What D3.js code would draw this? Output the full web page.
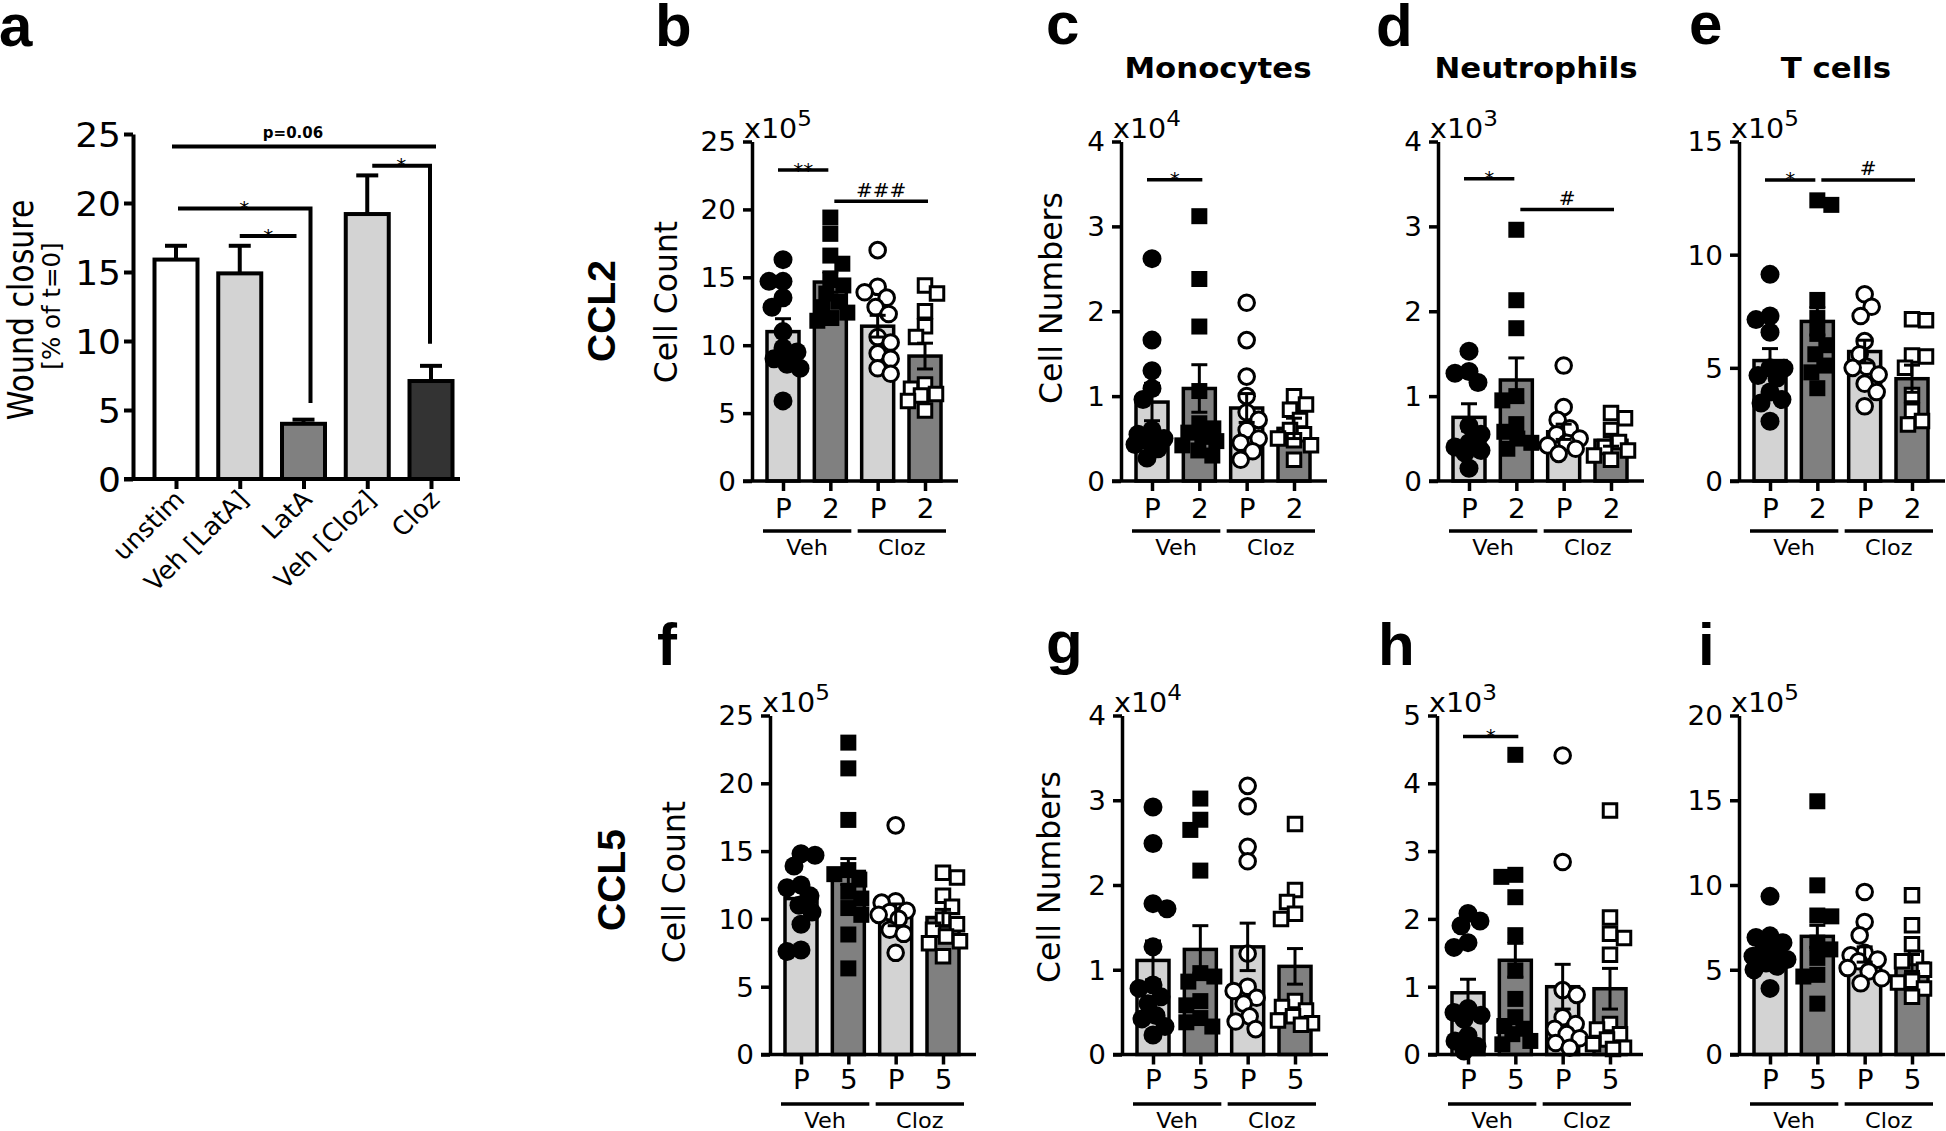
<!DOCTYPE html>
<html><head><meta charset="utf-8">
<script src="https://cdn.jsdelivr.net/npm/d3@7"></script>
<style>html,body{margin:0;padding:0;background:#fff;} svg{display:block;}</style>
</head><body>
<script>
// ---------------- DATA ----------------
// Panel a: wound closure
const aCategories = ["unstim", "Veh [LatA]", "LatA", "Veh [Cloz]", "Cloz"];
const aMeans = [15.9, 14.9, 4.0, 19.2, 7.1];
const aSem = [1.0, 2.0, 0.3, 2.8, 1.1];
const aTicks = [0, 5, 10, 15, 20, 25];
const aSig = [
  {from: 0, to: 4, v: 24.1, drop: null, label: "p=0.06"},
  {from: 0, to: 2, v: 19.6, drop: 5.5, label: "*"},
  {from: 1, to: 2, v: 17.6, drop: null, label: "*"},
  {from: 3, to: 4, v: 22.7, drop: 9.8, label: "*"}
];

// Scatter panels: categories & tick labels
const ccl2Categories = ["Veh-P", "Veh-2", "Cloz-P", "Cloz-2"];
const ccl5Categories = ["Veh-P", "Veh-5", "Cloz-P", "Cloz-5"];
const ccl2TickLabels = ["P", "2", "P", "2"];
const ccl5TickLabels = ["P", "5", "P", "5"];
const treatmentLabels = ["Veh", "Cloz"];

// b: CCL2 cell count (x10^5)
const bVehP  = [16.3, 14.7, 14.7, 13.5, 12.8, 11.0, 9.8, 9.5, 9.0, 8.6, 8.3, 5.9];
const bVeh2  = [19.4, 18.2, 16.6, 16.0, 14.8, 14.4, 13.8, 13.2, 12.8, 12.4, 12.0, 11.8];
const bClozP = [17.0, 14.3, 13.9, 13.5, 12.8, 12.3, 10.6, 10.2, 9.4, 9.0, 8.3, 7.9];
const bCloz2 = [14.4, 13.8, 12.5, 11.4, 10.6, 7.1, 6.8, 6.4, 6.3, 5.9, 5.2];
const bMeans = [11.0, 14.65, 11.4, 9.2];
const bSem = [0.95, 0.75, 0.8, 0.95];
const bTicks = [0, 5, 10, 15, 20, 25];
const bSig = [{from: 0, to: 1, v: 22.9, label: "**"}, {from: 1, to: 3, v: 20.6, label: "###"}];

// c: Monocytes (x10^4)
const cVehP  = [2.62, 1.66, 1.30, 1.09, 0.96, 0.60, 0.55, 0.50, 0.47, 0.43, 0.38, 0.27];
const cVeh2  = [3.12, 2.38, 1.82, 1.06, 0.68, 0.62, 0.57, 0.52, 0.47, 0.42, 0.36, 0.30];
const cClozP = [2.10, 1.66, 1.23, 1.00, 0.81, 0.72, 0.60, 0.50, 0.45, 0.35, 0.25];
const cCloz2 = [1.00, 0.90, 0.84, 0.72, 0.60, 0.55, 0.50, 0.48, 0.42, 0.25];
const cMeans = [0.93, 1.09, 0.86, 0.62];
const cSem = [0.22, 0.28, 0.17, 0.12];
const cTicks = [0, 1, 2, 3, 4];
const cSig = [{from: 0, to: 1, v: 3.55, label: "*"}];

// d: Neutrophils (x10^3)
const dVehP  = [1.53, 1.29, 1.27, 1.16, 0.65, 0.55, 0.45, 0.40, 0.36, 0.33, 0.15];
const dVeh2  = [2.96, 2.13, 1.80, 1.00, 0.95, 0.67, 0.58, 0.50, 0.45, 0.38];
const dClozP = [1.36, 0.87, 0.72, 0.62, 0.55, 0.50, 0.45, 0.42, 0.38, 0.32];
const dCloz2 = [0.80, 0.74, 0.60, 0.46, 0.40, 0.36, 0.30, 0.25];
const dMeans = [0.75, 1.19, 0.58, 0.48];
const dSem = [0.16, 0.26, 0.09, 0.07];
const dTicks = [0, 1, 2, 3, 4];
const dSig = [{from: 0, to: 1, v: 3.56, label: "*"}, {from: 1, to: 3, v: 3.2, label: "#"}];

// e: T cells (x10^5)
const eVehP  = [9.13, 7.29, 7.13, 6.57, 5.0, 4.98, 4.66, 4.55, 3.93, 3.6, 3.45, 2.64];
const eVeh2  = [12.4, 12.2, 8.0, 7.2, 6.5, 6.0, 5.6, 5.1, 4.8, 4.1];
const eClozP = [8.25, 7.7, 7.29, 6.18, 5.6, 5.05, 5.0, 4.7, 4.3, 3.93, 3.3];
const eCloz2 = [7.15, 7.1, 5.55, 5.5, 5.0, 3.8, 3.1, 2.65, 2.5];
const eMeans = [5.32, 7.05, 5.72, 4.52];
const eSem = [0.53, 0.6, 0.5, 0.6];
const eTicks = [0, 5, 10, 15];
const eSig = [{from: 0, to: 1, v: 13.3, label: "*"}, {from: 1, to: 3, v: 13.3, label: "#"}];

// f: CCL5 cell count (x10^5)
const fVehP  = [14.8, 14.7, 13.9, 12.5, 12.3, 11.7, 11.0, 10.5, 9.6, 7.7, 7.6];
const fVeh5  = [23.0, 21.1, 17.3, 13.6, 13.3, 12.9, 12.0, 11.5, 10.8, 10.3, 8.85, 6.35];
const fClozP = [16.9, 11.3, 11.2, 10.6, 10.5, 10.3, 10.0, 9.2, 8.9, 7.5];
const fCloz5 = [13.4, 13.05, 11.7, 10.9, 9.95, 9.6, 9.2, 8.7, 8.35, 8.2, 7.25];
const fMeans = [11.5, 13.5, 10.3, 10.1];
const fSem = [0.65, 0.95, 0.8, 0.6];
const fTicks = [0, 5, 10, 15, 20, 25];

// g: Monocytes CCL5 (x10^4)
const gVehP  = [2.92, 2.49, 1.78, 1.72, 1.27, 0.82, 0.78, 0.68, 0.60, 0.46, 0.42, 0.33, 0.23];
const gVeh5  = [3.02, 2.77, 2.65, 2.17, 0.96, 0.92, 0.86, 0.63, 0.58, 0.43, 0.38, 0.33];
const gClozP = [3.17, 2.93, 2.45, 2.28, 1.19, 0.80, 0.75, 0.67, 0.60, 0.45, 0.39, 0.30];
const gCloz5 = [2.72, 1.94, 1.80, 1.66, 1.60, 0.63, 0.56, 0.52, 0.45, 0.40, 0.37, 0.35];
const gMeans = [1.11, 1.24, 1.27, 1.04];
const gSem = [0.23, 0.28, 0.28, 0.21];
const gTicks = [0, 1, 2, 3, 4];

// h: Neutrophils CCL5 (x10^3)
const hVehP  = [2.08, 1.97, 1.90, 1.65, 1.58, 0.68, 0.62, 0.58, 0.52, 0.28, 0.20, 0.12, 0.05];
const hVeh5  = [4.42, 2.65, 2.62, 2.32, 1.76, 1.24, 0.82, 0.55, 0.42, 0.38, 0.30, 0.20, 0.15];
const hClozP = [4.41, 2.84, 0.95, 0.88, 0.55, 0.45, 0.38, 0.30, 0.24, 0.17, 0.10];
const hCloz5 = [3.60, 2.02, 1.78, 1.72, 1.47, 0.45, 0.37, 0.30, 0.22, 0.15, 0.10, 0.08];
const hMeans = [0.91, 1.39, 1.0, 0.97];
const hSem = [0.2, 0.25, 0.33, 0.3];
const hTicks = [0, 1, 2, 3, 4, 5];
const hSig = [{from: 0, to: 1, v: 4.69, label: "*"}];

// i: T cells CCL5 (x10^5)
const iVehP  = [9.33, 7.0, 6.9, 6.6, 6.3, 6.0, 5.8, 5.6, 5.4, 5.2, 5.0, 3.9];
const iVeh5  = [14.94, 9.98, 8.2, 8.15, 6.6, 6.2, 5.7, 4.7, 4.6, 3.0];
const iClozP = [9.59, 7.82, 7.03, 6.0, 5.85, 5.6, 5.5, 5.1, 4.9, 4.5, 4.2];
const iCloz5 = [9.39, 7.62, 6.5, 5.7, 5.5, 5.0, 4.35, 4.25, 3.9, 3.4];
const iMeans = [6.0, 6.97, 5.9, 5.4];
const iSem = [0.45, 0.65, 0.45, 0.5];
const iTicks = [0, 5, 10, 15, 20];

// ---------------- RENDER ----------------
const W = 1946, H = 1131;
const FONT = "'DejaVu Sans', Verdana, sans-serif";
const FONT_L = "'Liberation Sans', Arial, sans-serif";
const SX = 1.07;
const svg = d3.select("body").append("svg").attr("width", W).attr("height", H).attr("viewBox", `0 0 ${W} ${H}`);
svg.append("rect").attr("width", W).attr("height", H).attr("fill", "#fff");

function txt(p, x, y, s, o = {}) {
  const sx = o.sx ?? SX;
  return p.append("text")
    .attr("transform", `translate(${x},${y}) scale(${sx},1)${o.rot ? ` rotate(${o.rot})` : ""}`)
    .attr("font-family", o.family || FONT)
    .attr("font-size", o.size || 24)
    .attr("font-weight", o.weight || "normal")
    .attr("text-anchor", o.anchor || "start")
    .attr("fill", "#000")
    .text(s);
}
function line(p, x1, y1, x2, y2, w = 3) {
  return p.append("line").attr("x1", x1).attr("y1", y1).attr("x2", x2).attr("y2", y2)
    .attr("stroke", "#000").attr("stroke-width", w);
}
function swarm(vals, y, minDist, maxOff) {
  const order = vals.map((v, i) => i).sort((a, b) => vals[b] - vals[a]);
  const placed = [], offs = new Array(vals.length);
  order.forEach((i, n) => {
    const py = y(vals[i]);
    let best = null, cand = 0, candScore = -1;
    for (let k = 0; k <= maxOff && best === null; k++) {
      const opts = k === 0 ? [0] : (n % 2 ? [k, -k] : [-k, k]);
      for (const s of opts) {
        let md = Infinity;
        placed.forEach(p => { md = Math.min(md, Math.hypot(p.x - s, p.y - py)); });
        if (md >= minDist) { best = s; break; }
        if (md > candScore) { candScore = md; cand = s; }
      }
    }
    if (best === null) best = cand;
    offs[i] = best; placed.push({x: best, y: py});
  });
  return offs;
}
function yAxis(g, y, axisX, ticks, fs, pad, tickLen, sw, sx) {
  const ax = g.append("g").attr("transform", `translate(${axisX},0)`)
    .call(d3.axisLeft(y).tickValues(ticks).tickSize(tickLen).tickSizeOuter(0).tickPadding(0).tickFormat(d3.format("d")));
  ax.attr("font-size", null).attr("font-family", null);
  ax.select(".domain").attr("stroke", "#000").attr("stroke-width", sw);
  ax.selectAll(".tick line").attr("stroke", "#000").attr("stroke-width", sw);
  ax.selectAll(".tick text").attr("x", -pad / sx).attr("dy", "0.36em")
    .attr("transform", `scale(${sx},1)`).attr("font-size", fs).attr("font-family", FONT).attr("fill", "#000");
}

const MARK = [
  {shape: d3.symbolCircle, size: Math.PI * 9.5 * 9.5, fill: "#000", stroke: "none", sw: 0},
  {shape: d3.symbolSquare, size: 16 * 16, fill: "#000", stroke: "none", sw: 0},
  {shape: d3.symbolCircle, size: Math.PI * 7.8 * 7.8, fill: "#fff", stroke: "#000", sw: 3},
  {shape: d3.symbolSquare, size: 13.5 * 13.5, fill: "#fff", stroke: "#000", sw: 3}
];
const BAR_FILL = ["#d3d3d3", "#808080"];
const TOP = {y0: 481, yTop: 141.5, labBase: 37, groupLine: 50};
const BOT = {y0: 1054.5, yTop: 715.5, labBase: 35, groupLine: 49.5};
const SW = 3.5;

function scatterPanel(P) {
  const R = P.row, y0 = R.y0;
  const y = d3.scaleLinear().domain([0, P.max]).range([y0, R.yTop]);
  const x = d3.scalePoint().domain(P.cats).range([P.axisX + 31, P.axisX + 173]);
  const g = svg.append("g");
  // bars
  g.selectAll("rect.bar").data(P.cats).join("rect").attr("class", "bar")
    .attr("x", d => x(d) - 16).attr("width", 32)
    .attr("y", (d, i) => y(P.means[i])).attr("height", (d, i) => y0 - y(P.means[i]))
    .attr("fill", (d, i) => BAR_FILL[i % 2]).attr("stroke", "#000").attr("stroke-width", SW);
  // points
  P.points.forEach((vals, ci) => {
    const offs = swarm(vals, y, 14, 17);
    const cx = x(P.cats[ci]), m = MARK[ci];
    g.append("g").selectAll("path").data(vals).join("path")
      .attr("transform", (v, j) => `translate(${cx + offs[j]},${y(v)})`)
      .attr("d", d3.symbol().type(m.shape).size(m.size))
      .attr("fill", m.fill).attr("stroke", m.stroke).attr("stroke-width", m.sw);
  });
  // error bars (mean ± SEM)
  P.cats.forEach((c, i) => {
    const cx = x(c), yt = y(P.means[i] + P.sem[i]), yb = y(P.means[i] - P.sem[i]);
    line(g, cx, yt, cx, yb, 3);
    line(g, cx - 8, yt, cx + 8, yt, 3);
    line(g, cx - 8, yb, cx + 8, yb, 3);
  });
  // axes
  yAxis(g, y, P.axisX, P.ticks, 26, 16, 9, SW, SX);
  line(g, P.axisX - 9, y0, P.axisX + 206, y0, SW);
  const xa = g.append("g").attr("transform", `translate(0,${y0})`)
    .call(d3.axisBottom(x).tickSize(10).tickSizeOuter(0).tickFormat((d, i) => P.tickLabels[i]));
  xa.attr("font-size", null).attr("font-family", null);
  xa.select(".domain").remove();
  xa.selectAll(".tick line").attr("stroke", "#000").attr("stroke-width", SW);
  xa.selectAll(".tick text").attr("y", R.labBase).attr("dy", 0).attr("transform", `scale(${SX},1)`)
    .attr("font-size", 26).attr("font-family", FONT).attr("fill", "#000");
  // treatment group lines
  treatmentLabels.forEach((t, k) => {
    const x1 = x(P.cats[2 * k]) - 20, x2 = x(P.cats[2 * k + 1]) + 21, gy = y0 + R.groupLine;
    line(g, x1, gy, x2, gy, 3.5);
    txt(g, (x1 + x2) / 2, gy + 24, t, {size: 21, anchor: "middle"});
  });
  // exponent label
  const ex = txt(g, P.axisX - 8, R.yTop - 4, "x10", {size: 26, sx: 1.1});
  ex.append("tspan").attr("font-size", 21).attr("dy", -12).text(P.exp);
  // significance
  const sig = P.sig || [];
  sig.forEach(s => {
    const x1 = x(P.cats[s.from]) + (sig.some(o => o !== s && o.to === s.from) ? 4 : -5);
    const x2 = x(P.cats[s.to]) + (sig.some(o => o !== s && o.from === s.to) ? -2 : 3);
    const sy = y(s.v);
    line(g, x1, sy, x2, sy, 3.5);
    const isHash = s.label.startsWith("#");
    txt(g, (x1 + x2) / 2, isHash ? sy - 4.5 : sy + 6.5, s.label, {size: 20, anchor: "middle", sx: 1});
  });
  // y title
  if (P.yTitle) txt(g, P.yTitleX, P.yTitleY, P.yTitle, {size: 31.5, anchor: "middle", rot: -90, sx: 1.03});
  if (P.title) txt(g, P.titleX, 78, P.title, {size: 28, weight: "bold", anchor: "middle", sx: 1.1});
  txt(g, P.letterX, P.letterY, P.letter, {size: 60, weight: "bold", family: FONT_L, sx: 1});
}

// ---- Panel a ----
(function () {
  const y0 = 479, yTop = 134, axisX = 133;
  const y = d3.scaleLinear().domain([0, 25]).range([y0, yTop]);
  const x = d3.scalePoint().domain(aCategories).range([176, 431]);
  const fills = ["#ffffff", "#d3d3d3", "#808080", "#d3d3d3", "#333333"];
  const g = svg.append("g");
  g.selectAll("rect").data(aCategories).join("rect")
    .attr("x", d => x(d) - 21.5).attr("width", 43)
    .attr("y", (d, i) => y(aMeans[i])).attr("height", (d, i) => y0 - y(aMeans[i]))
    .attr("fill", (d, i) => fills[i]).attr("stroke", "#000").attr("stroke-width", 4);
  aCategories.forEach((c, i) => {
    const cx = x(c), yt = y(aMeans[i] + aSem[i]);
    line(g, cx, y(aMeans[i]), cx, yt, 4);
    line(g, cx - 11, yt, cx + 11, yt, 4);
  });
  yAxis(g, y, axisX, aTicks, 34, 12, 9, 4, 1.06);
  line(g, 124, y0, 460, y0, 4);
  const xa = g.append("g").attr("transform", `translate(0,${y0})`)
    .call(d3.axisBottom(x).tickSize(10).tickSizeOuter(0).tickFormat(() => ""));
  xa.select(".domain").remove();
  xa.selectAll(".tick line").attr("stroke", "#000").attr("stroke-width", 4);
  aCategories.forEach(c => txt(g, x(c) + 10, y0 + 22, c, {size: 25, anchor: "end", rot: -45, sx: 1.03}));
  // significance brackets
  const nudge = [[-4, 5, -11], [2, 7, 0], [0, -7, 0], [5, -1, 0]];
  aSig.forEach((s, k) => {
    const x1 = x(aCategories[s.from]) + nudge[k][0], x2 = x(aCategories[s.to]) + nudge[k][1], sy = y(s.v);
    if (s.drop !== null) {
      g.append("path").attr("d", `M${x1},${sy}H${x2}V${y(s.drop)}`).attr("fill", "none")
        .attr("stroke", "#000").attr("stroke-width", 4);
    } else line(g, x1, sy, x2, sy, 4);
    const cx = (x1 + x2) / 2 + nudge[k][2];
    if (s.label === "*") txt(g, cx, sy + 6.5, s.label, {size: 20, anchor: "middle", sx: 1});
    else txt(g, cx, sy - 8, s.label, {size: 15, weight: "bold", anchor: "middle", sx: 1});
  });
  txt(g, 33, 310, "Wound closure", {size: 30, anchor: "middle", rot: -90, sx: 1.2});
  txt(g, 60, 306, "[% of t=0]", {size: 24.5, anchor: "middle", rot: -90, sx: 1});
  txt(g, -1, 46, "a", {size: 60, weight: "bold", family: FONT_L, sx: 1});
})();

// ---- Scatter panels ----
scatterPanel({row: TOP, axisX: 752, max: 25, ticks: bTicks, exp: "5", cats: ccl2Categories, tickLabels: ccl2TickLabels,
  means: bMeans, sem: bSem, points: [bVehP, bVeh2, bClozP, bCloz2], sig: bSig,
  yTitle: "Cell Count", yTitleX: 677, yTitleY: 302, letter: "b", letterX: 655, letterY: 46});
scatterPanel({row: TOP, axisX: 1121, max: 4, ticks: cTicks, exp: "4", cats: ccl2Categories, tickLabels: ccl2TickLabels,
  means: cMeans, sem: cSem, points: [cVehP, cVeh2, cClozP, cCloz2], sig: cSig,
  yTitle: "Cell Numbers", yTitleX: 1062, yTitleY: 298, title: "Monocytes", titleX: 1218, letter: "c", letterX: 1046, letterY: 44});
scatterPanel({row: TOP, axisX: 1438, max: 4, ticks: dTicks, exp: "3", cats: ccl2Categories, tickLabels: ccl2TickLabels,
  means: dMeans, sem: dSem, points: [dVehP, dVeh2, dClozP, dCloz2], sig: dSig,
  title: "Neutrophils", titleX: 1536, letter: "d", letterX: 1376, letterY: 46});
scatterPanel({row: TOP, axisX: 1739, max: 15, ticks: eTicks, exp: "5", cats: ccl2Categories, tickLabels: ccl2TickLabels,
  means: eMeans, sem: eSem, points: [eVehP, eVeh2, eClozP, eCloz2], sig: eSig,
  title: "T cells", titleX: 1836, letter: "e", letterX: 1689, letterY: 44});
scatterPanel({row: BOT, axisX: 770, max: 25, ticks: fTicks, exp: "5", cats: ccl5Categories, tickLabels: ccl5TickLabels,
  means: fMeans, sem: fSem, points: [fVehP, fVeh5, fClozP, fCloz5],
  yTitle: "Cell Count", yTitleX: 685, yTitleY: 882, letter: "f", letterX: 657, letterY: 665});
scatterPanel({row: BOT, axisX: 1122, max: 4, ticks: gTicks, exp: "4", cats: ccl5Categories, tickLabels: ccl5TickLabels,
  means: gMeans, sem: gSem, points: [gVehP, gVeh5, gClozP, gCloz5],
  yTitle: "Cell Numbers", yTitleX: 1060, yTitleY: 877, letter: "g", letterX: 1046, letterY: 663});
scatterPanel({row: BOT, axisX: 1437, max: 5, ticks: hTicks, exp: "3", cats: ccl5Categories, tickLabels: ccl5TickLabels,
  means: hMeans, sem: hSem, points: [hVehP, hVeh5, hClozP, hCloz5], sig: hSig,
  letter: "h", letterX: 1378, letterY: 665});
scatterPanel({row: BOT, axisX: 1739, max: 20, ticks: iTicks, exp: "5", cats: ccl5Categories, tickLabels: ccl5TickLabels,
  means: iMeans, sem: iSem, points: [iVehP, iVeh5, iClozP, iCloz5],
  letter: "i", letterX: 1698, letterY: 665});

// Row labels
txt(svg, 615, 311, "CCL2", {size: 39, weight: "bold", family: FONT_L, anchor: "middle", rot: -90, sx: 1});
txt(svg, 625, 880, "CCL5", {size: 39, weight: "bold", family: FONT_L, anchor: "middle", rot: -90, sx: 1});
</script>
</body></html>
